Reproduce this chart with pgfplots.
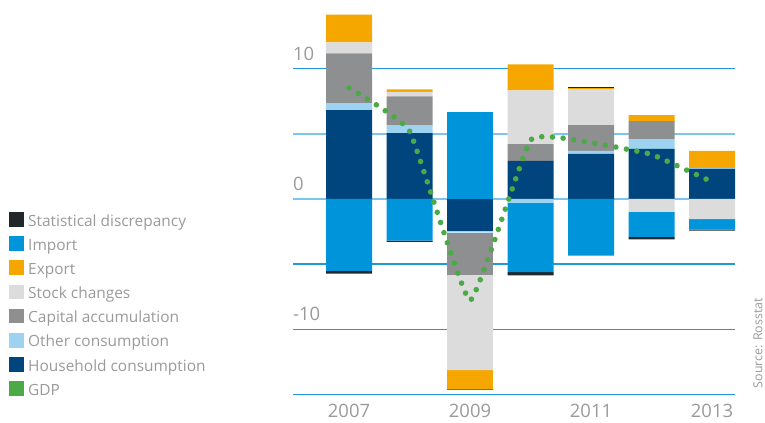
\documentclass[border=0pt]{standalone}
\usepackage{pgfplots}
\pgfplotsset{compat=1.18}
\usepackage{pgfplotstable}
\usepackage{fontspec}
\setmainfont{Open Sans}
\definecolor{cSD}{HTML}{22282A}
\definecolor{cImp}{HTML}{0095DA}
\definecolor{cExp}{HTML}{F5A700}
\definecolor{cStock}{HTML}{DCDCDC}
\definecolor{cCap}{HTML}{8E8F90}
\definecolor{cOth}{HTML}{9DD3F1}
\definecolor{cHH}{HTML}{00457E}
\definecolor{cGDP}{HTML}{4BAA45}
\definecolor{gridA}{HTML}{1E9AD6}
\definecolor{gridB}{HTML}{7CC6EE}
\definecolor{txt}{HTML}{9A9A9A}

% positive contributions (stacked upwards)
\pgfplotstableread{
year H O C S E I SD
2007 6.80 0.53 3.82 0.84 2.14 0 0
2008 5.04 0.61 2.21 0.33 0.20 0 0
2009 0 0 0 0 0 6.64 0
2010 2.90 0 1.30 4.12 1.99 0 0
2011 3.44 0.23 1.98 2.75 0.08 0 0.08
2012 3.82 0.76 1.37 0 0.46 0 0
2013 2.29 0.08 0 0 1.30 0 0
}\posdata
% negative contributions (stacked downwards)
\pgfplotstableread{
year H O C S E I SD
2007 0 0 0 0 0 -5.52 -0.21
2008 0 0 0 0 0 -3.20 -0.10
2009 -2.45 -0.15 -3.24 -7.29 -1.43 0 -0.08
2010 0 -0.30 0 0 0 -5.33 -0.25
2011 0 0 0 0 0 -4.36 0
2012 0 0 0 -1.00 0 -1.92 -0.20
2013 0 0 0 -1.55 0 -0.82 -0.08
}\negdata
\pgfplotstableread{
year gdp
2007 8.5
2008 5.2
2009 -7.8
2010 4.5
2011 4.3
2012 3.4
2013 1.3
}\gdpdata

\pgfplotsset{base/.style={
  scale only axis, width=442bp, height=391.2bp,
  at={(293bp,28.6bp)}, anchor=south west,
  xmin=2006.074, xmax=2013.38, ymin=-15, ymax=15,
  axis line style={draw=none}, tick style={draw=none}, major tick length=0pt,
}}

\begin{document}
\begin{tikzpicture}
\path[use as bounding box] (0,0) rectangle (765bp,423bp);

\begin{axis}[base,
  ybar stacked, bar width=0.76,
  every axis plot/.append style={draw=none},
  ytick={-15,-10,-5,10}, yticklabels={,-10,,10},
  extra y ticks={0,5}, extra y tick labels={0,},
  extra y tick style={grid=major, major grid style={gridB, line width=2bp}},
  ymajorgrids, major grid style={gridA, line width=1.3bp},
  xtick={2007,2009,2011,2013}, xticklabels={2007,2009,2011,2013},
  xticklabel style={font=\fontsize{18.5}{18.5}\selectfont, text=txt, anchor=north, inner sep=0pt, yshift=-10bp},
  yticklabel style={font=\fontsize{18.5}{18.5}\selectfont, text=txt, anchor=south west, inner sep=0pt, yshift=8bp},
]
\addplot[fill=cHH] table[x=year,y=H]{\posdata};
\addplot[fill=cOth] table[x=year,y=O]{\posdata};
\addplot[fill=cCap] table[x=year,y=C]{\posdata};
\addplot[fill=cStock] table[x=year,y=S]{\posdata};
\addplot[fill=cExp] table[x=year,y=E]{\posdata};
\addplot[fill=cImp] table[x=year,y=I]{\posdata};
\addplot[fill=cSD] table[x=year,y=SD]{\posdata};
\end{axis}

\begin{axis}[base, hide axis,
  ybar stacked, bar width=0.76,
  every axis plot/.append style={draw=none},
]
\addplot[fill=cHH] table[x=year,y=H]{\negdata};
\addplot[fill=cOth] table[x=year,y=O]{\negdata};
\addplot[fill=cCap] table[x=year,y=C]{\negdata};
\addplot[fill=cStock] table[x=year,y=S]{\negdata};
\addplot[fill=cExp] table[x=year,y=E]{\negdata};
\addplot[fill=cImp] table[x=year,y=I]{\negdata};
\addplot[fill=cSD] table[x=year,y=SD]{\negdata};
\end{axis}

\begin{axis}[base, hide axis,
  legend style={at={(axis description cs:-0.6425,0.4663)}, anchor=north west,
    draw=none, fill=none, inner sep=0pt, row sep=7.14bp, column sep=4.3bp,
    font=\fontsize{15.5}{15.5}\selectfont, text=txt,
    nodes={inner sep=0pt, text height=12bp, text depth=3bp, text=txt}},
  legend cell align=left,
  legend image code/.code={\fill[#1] (0bp,-5.2bp) rectangle (14.7bp,9.5bp);},
]
\addplot[forget plot, cGDP, smooth, tension=0.2, line width=5.6bp, line cap=round,
  dash pattern=on 0pt off 10.7bp] table[x=year,y=gdp]{\gdpdata};
\addlegendimage{draw=none, fill=cSD}\addlegendentry{Statistical discrepancy}
\addlegendimage{draw=none, fill=cImp}\addlegendentry{Import}
\addlegendimage{draw=none, fill=cExp}\addlegendentry{Export}
\addlegendimage{draw=none, fill=cStock}\addlegendentry{Stock changes}
\addlegendimage{draw=none, fill=cCap}\addlegendentry{Capital accumulation}
\addlegendimage{draw=none, fill=cOth}\addlegendentry{Other consumption}
\addlegendimage{draw=none, fill=cHH}\addlegendentry{Household consumption}
\addlegendimage{draw=none, fill=cGDP}\addlegendentry{GDP}
\end{axis}

\node[rotate=90, font=\fontsize{12.5}{12.5}\selectfont, text=txt, inner sep=0pt] at (758bp,80bp) {Source: Rosstat};
\end{tikzpicture}
\end{document}
